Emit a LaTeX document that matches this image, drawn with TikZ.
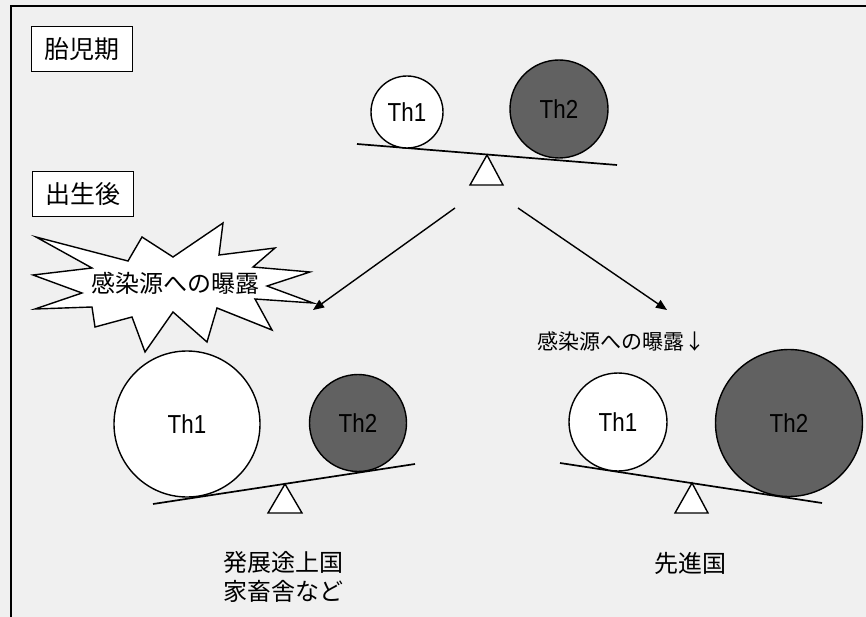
\documentclass[tikz,border=0pt]{standalone}
\usepackage{fontspec}
\newfontfamily\jp{Noto Sans CJK JP}
\newfontfamily\thf{Liberation Sans}
\newcommand{\thtxt}[1]{\scalebox{0.86}[1]{#1}}
\usetikzlibrary{arrows.meta}
\tikzset{
  lbl/.style={draw, line width=1.7pt, fill=white, minimum width=101pt, minimum height=45pt, inner sep=0pt, font=\jp\fontsize{25}{25}\selectfont},
  thone/.style={circle, draw, line width=1.4pt, fill=white, inner sep=0pt, font=\thf\fontsize{26}{26}\selectfont},
  thtwo/.style={circle, draw, line width=1.4pt, fill=black!62, inner sep=0pt, font=\thf\fontsize{26}{26}\selectfont},
  beam/.style={line width=1.7pt},
  fulcrum/.style={draw, line width=1.4pt, fill=white, line join=miter},
  arr/.style={line width=1.4pt, -{Triangle[length=11pt,width=9pt]}},
  jtext/.style={font=\jp\fontsize{24}{29}\selectfont, inner sep=0pt, align=center}
}
\begin{document}
\begin{tikzpicture}[x=1pt,y=-1pt]
\useasboundingbox (0,0) rectangle (866,617);
\fill[black!6] (0,0) rectangle (866,617);
% frame
\draw[line width=1.8pt] (11,617) -- (11,6) -- (866,6);
% labels
\node[lbl] (fetal) at (82,49) {胎児期};
\node[lbl] (birth) at (83,194) {出生後};
% top balance
\draw[fulcrum] (487,155) -- (470,185) -- (503,185) -- cycle;
\draw[beam] (357,144) -- (617,165);
\node[thone, minimum size=72pt] (t1) at (407,112) {\thtxt{Th1}};
\node[thtwo, minimum size=98pt] (t2) at (559,109) {\thtxt{Th2}};
% arrows
\coordinate (als) at (455,208);
\coordinate (ale) at (313,310);
\coordinate (ars) at (518,208);
\coordinate (are) at (667,310);
\draw[arr] (als) -- (ale);
\draw[arr] (ars) -- (are);
% burst
\draw[line width=1.4pt, fill=white, line join=miter] (36,237) -- (128,261) -- (142,237) -- (173,257) -- (223,223) -- (219,255) -- (275,248) -- (253,267) -- (310,272) -- (267,286) -- (313,303) -- (255,299) -- (272,330) -- (217,308) -- (207,342) -- (173,312) -- (145,352) -- (132,317) -- (95,327) -- (92,307) -- (35,309) -- (82,293) -- (33,275) -- (92,268) -- cycle;
\node[jtext] (burst) at (175,283) {感染源への曝露};
% lower left balance
\draw[fulcrum] (285,484) -- (268,513) -- (302,513) -- cycle;
\draw[beam] (153,504) -- (415,464);
\node[thone, minimum size=146pt] (l1) at (187,424) {\thtxt{Th1}};
\node[thtwo, minimum size=97pt] (l2) at (358,423) {\thtxt{Th2}};
\node[jtext] (dev) at (283,577) {発展途上国\\家畜舎など};
% lower right balance
\draw[fulcrum] (692,483) -- (675,513) -- (708,513) -- cycle;
\draw[beam] (560,463) -- (822,503);
\node[thone, minimum size=98pt] (r1) at (618,422) {\thtxt{Th1}};
\node[thtwo, minimum size=147pt] (r2) at (789,423) {\thtxt{Th2}};
\node[jtext, font=\jp\fontsize{21}{21}\selectfont] (low) at (621,342) {感染源への曝露↓};
\node[jtext] (adv) at (690,563) {先進国};
\end{tikzpicture}
\end{document}
